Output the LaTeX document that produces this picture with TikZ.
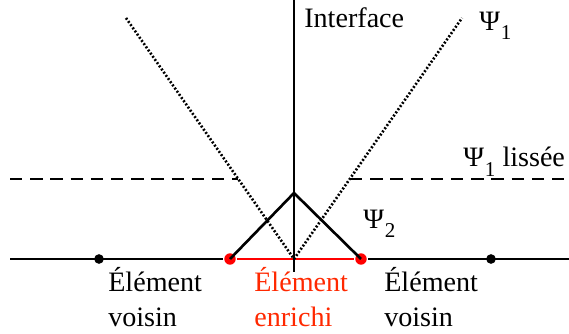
\documentclass[tikz,border=0pt]{standalone}
\usepackage{fontspec}
\setmainfont{Liberation Serif}
\definecolor{enrichi}{RGB}{255,40,0}
\newcommand{\psisub}[1]{Ψ\kern0.5pt\raisebox{-0.7ex}{\fontsize{12}{14}\selectfont #1}}
\tikzset{
  lbl/.style={inner sep=0pt, font=\fontsize{16}{20}\selectfont, align=left},
  noeud/.style={circle, fill, inner sep=0pt, minimum size=5.5pt},
}
\begin{document}
\begin{tikzpicture}[x=0.02cm, y=-0.02cm, line width=1.5pt]
\useasboundingbox (0,0) rectangle (569,334);

% maillage
\coordinate (g) at (10,259);
\coordinate (d) at (569,259);
\node[noeud] (v1) at (99,259) {};
\node[noeud, red, minimum size=6.5pt] (e1) at (230,259) {};
\node[noeud, red, minimum size=6.5pt] (e2) at (361,259) {};
\node[noeud] (v2) at (491,259) {};
\draw (g) -- (e1);
\draw (e2) -- (d);
\draw[red] (e1) -- (e2);

% interface
\coordinate (ih) at (294,0);
\coordinate (ib) at (294,272);
\draw[line width=0.9pt] (ih) -- (ib);
\node[lbl, anchor=west] (itf) at (303,18) {Interface};

% Psi_1
\coordinate (p0) at (294,259);
\coordinate (pg) at (126,18);
\coordinate (pd) at (462,18);
\draw[line width=1.5pt, dash pattern=on 1.1pt off 1.1pt] (pg) -- (p0) -- (pd);
\node[lbl, anchor=west] (psi1) at (478,26) {\psisub{1}};

% Psi_1 lissee
\coordinate (lg) at (10,179);
\coordinate (lg2) at (238,179);
\coordinate (ld2) at (350,179);
\coordinate (ld) at (569,179);
\draw[dash pattern=on 7pt off 4.5pt] (lg) -- (lg2);
\draw[dash pattern=on 7pt off 4.5pt] (ld2) -- (ld);
\node[lbl, anchor=base west] (liss) at (462,167) {\psisub{1} lissée};

% Psi_2
\coordinate (s) at (294,193);
\draw (e1.center) -- (s) -- (e2.center);
\node[lbl, anchor=west] (psi2) at (362,224) {\psisub{2}};

% elements
\node[lbl, anchor=north west] (el1) at (107,266) {Élément\\voisin};
\node[lbl, anchor=north west, text=enrichi] (el2) at (253,266) {Élément\\enrichi};
\node[lbl, anchor=north west] (el3) at (383,266) {Élément\\voisin};
\end{tikzpicture}
\end{document}
